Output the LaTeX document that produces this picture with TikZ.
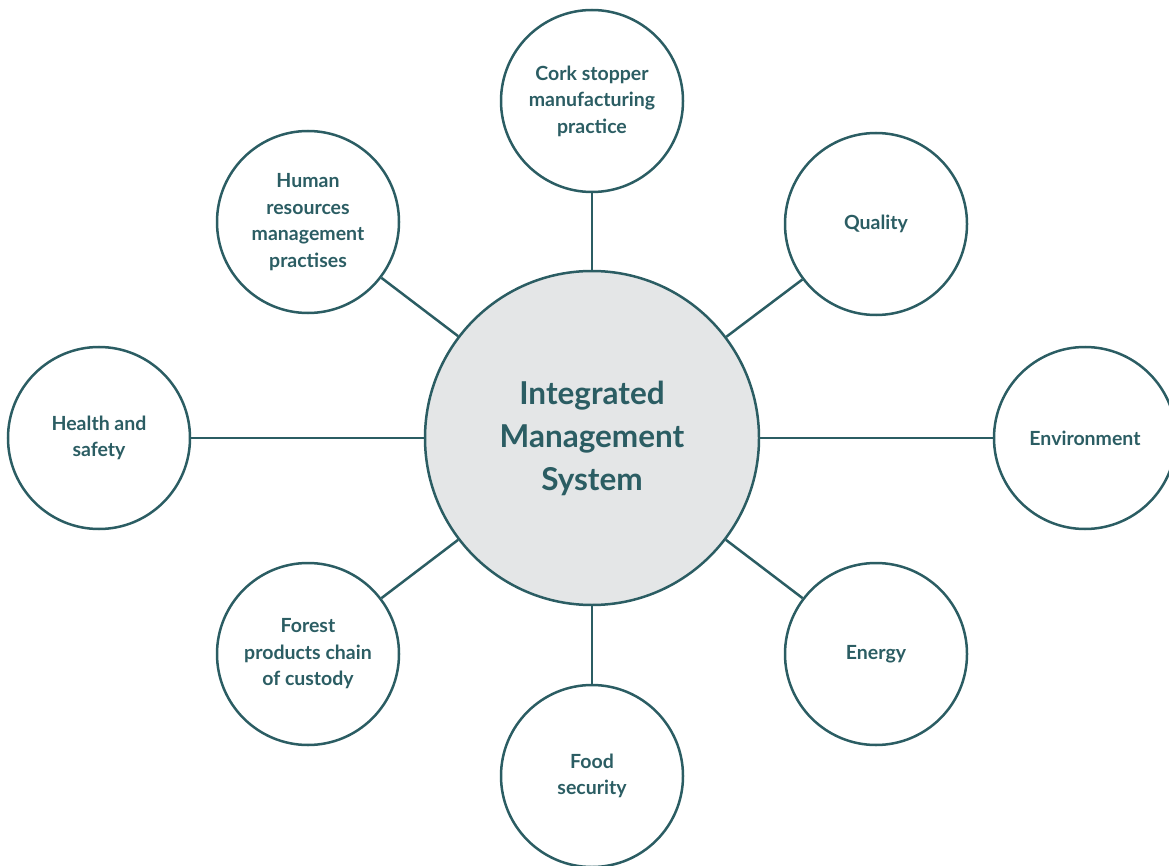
\documentclass[tikz,border=0pt]{standalone}
\usepackage{fontspec}
\setmainfont{Lato}

\definecolor{teal}{HTML}{2B5D63}
\definecolor{greyfill}{HTML}{E4E6E7}

\begin{document}
\begin{tikzpicture}[x=1pt, y=-1pt, line width=2.5pt,
		main/.style={draw=teal, circle, minimum size=182pt, inner sep=0pt, align=center, text=teal, font=\fontsize{19.5}{26.5}\selectfont\bfseries},
		hub/.style={draw=teal, circle, fill=greyfill, minimum size=334pt, inner sep=0pt, align=center, text=teal, font=\fontsize{31.5}{43}\selectfont\bfseries},
		link/.style={draw=teal}]
		\useasboundingbox (0,0) rectangle (1169,866);

		\node[hub] (ims) at (592,438) {Integrated\\Management\\System};

		\node[main] (cork) at (592,101) {Cork stopper\\manufacturing\\practice};
		\node[main] (quality) at (876,224) {Quality};
		\node[main] (env) at (1085,438) {Environment};
		\node[main] (energy) at (876,654) {Energy};
		\node[main] (food) at (592,776) {Food\\security};
		\node[main] (forest) at (308,654) {Forest\\products chain\\of custody};
		\node[main] (health) at (99,438) {Health and\\safety};
		\node[main] (human) at (308,222) {Human\\resources\\management\\practises};

		\draw[link] (ims) -- (cork);
		\draw[link] (ims) -- (quality);
		\draw[link] (ims) -- (env);
		\draw[link] (ims) -- (energy);
		\draw[link] (ims) -- (food);
		\draw[link] (ims) -- (forest);
		\draw[link] (ims) -- (health);
		\draw[link] (ims) -- (human);
	\end{tikzpicture}
\end{document}
